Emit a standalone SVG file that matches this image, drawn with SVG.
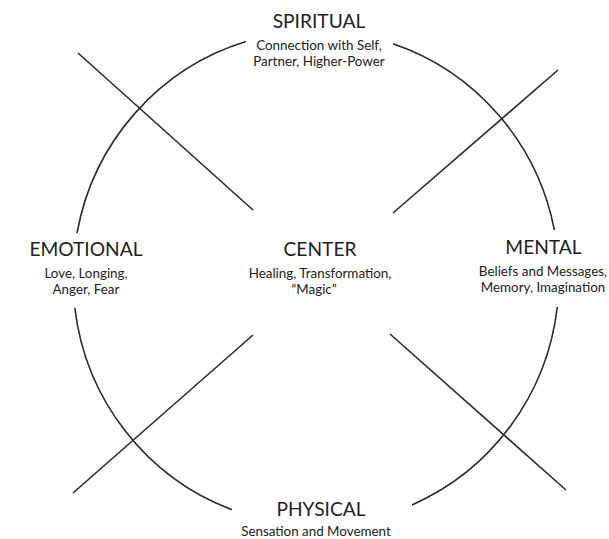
<svg xmlns="http://www.w3.org/2000/svg" width="609" height="539" viewBox="0 0 609 539">
<style>
.arc{fill:none;stroke:#2a2a2a;stroke-width:1.6}
.ln{stroke:#2a2a2a;stroke-width:1.6}
.t{font-family:Lato,"Noto Sans",sans-serif;font-size:19.2px;fill:#1e1e1e;text-anchor:middle}
.s{font-family:Lato,"Noto Sans",sans-serif;font-size:13.4px;fill:#222;text-anchor:middle}
</style>
<rect width="609" height="539" fill="#fff"/>
<g id="connectors">
<path class="arc" d="M246 41.5 A243 247 0 0 0 77 233"/>
<path class="arc" d="M393 43.7 A243 247 0 0 1 554.4 230"/>
<path class="arc" d="M557.3 307 A243 247 0 0 1 412 504.9"/>
<path class="arc" d="M74.8 308 A243 247 0 0 0 232 509.8"/>
<line class="ln" x1="78" y1="53" x2="253" y2="210"/>
<line class="ln" x1="558" y1="70" x2="393" y2="213"/>
<line class="ln" x1="253" y1="335" x2="73" y2="493"/>
<line class="ln" x1="390" y1="334" x2="566" y2="490"/>
</g>
<g id="spiritual">
<text class="t" x="319" y="28">SPIRITUAL</text>
<text class="s" x="319" y="50">Connection with Self,</text>
<text class="s" x="319" y="65.5">Partner, Higher-Power</text>
</g>
<g id="emotional">
<text class="t" x="86" y="256">EMOTIONAL</text>
<text class="s" x="86" y="278">Love, Longing,</text>
<text class="s" x="86" y="294">Anger, Fear</text>
</g>
<g id="center">
<text class="t" x="320" y="255.5">CENTER</text>
<text class="s" x="320" y="277.5">Healing, Transformation,</text>
<text class="s" x="314" y="293.5">“Magic”</text>
</g>
<g id="mental">
<text class="t" x="543.5" y="254">MENTAL</text>
<text class="s" x="543" y="276">Beliefs and Messages,</text>
<text class="s" x="543" y="291.5">Memory, Imagination</text>
</g>
<g id="physical">
<text class="t" x="321" y="516">PHYSICAL</text>
<text class="s" x="316" y="536">Sensation and Movement</text>
</g>
</svg>
